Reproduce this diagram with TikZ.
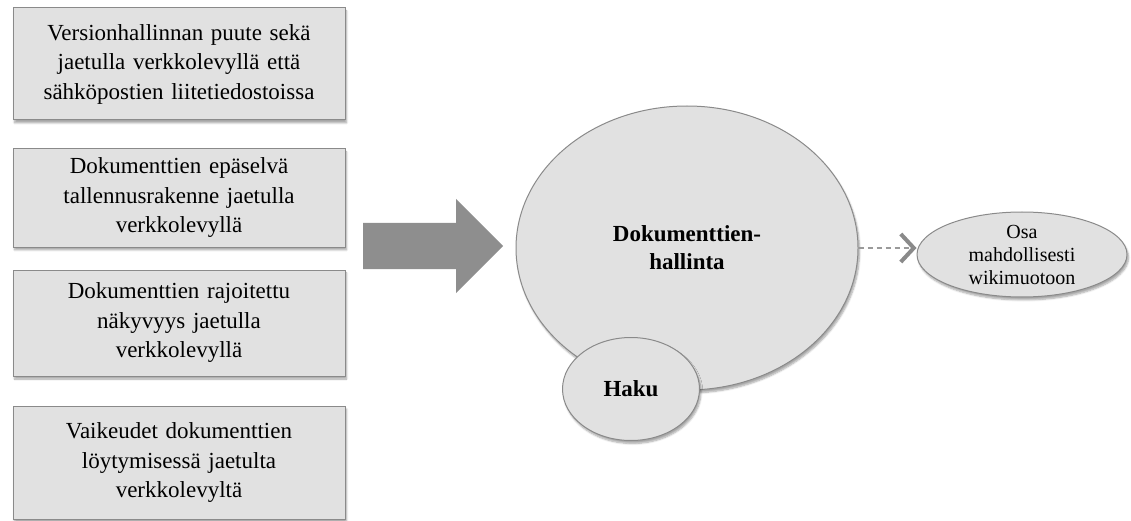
\documentclass[tikz,border=0pt]{standalone}
\usepackage{fontspec}
\setmainfont{Liberation Serif}
\usetikzlibrary{shapes.geometric,arrows.meta,shadows.blur}
\definecolor{panel}{HTML}{E1E1E1}
\definecolor{edge}{HTML}{8A8A8A}
\definecolor{bigarrow}{HTML}{8E8E8E}
\definecolor{dashline}{HTML}{9A9A9A}
\tikzset{
  shade/.style={blur shadow={shadow xshift=1.5pt,shadow yshift=-3pt,shadow blur steps=6,shadow opacity=35}},
  issue/.style={draw=edge,line width=1pt,fill=panel,shade,minimum width=332pt,
    text width=300pt,align=center,inner sep=0pt,
    font=\fontsize{23}{29.5}\selectfont},
  blob/.style={ellipse,draw=edge,line width=1pt,fill=panel,shade,inner sep=0pt,align=center},
}
\begin{document}
\begin{tikzpicture}[x=1pt,y=1pt]
\useasboundingbox (0,0) rectangle (1131,520);

% problem boxes on the left
\node[issue,minimum height=112pt] (p1) at (179,456)
  {Versionhallinnan puute sekä\\jaetulla verkkolevyllä että\\sähköpostien liitetiedostoissa};
\node[issue,minimum height=98pt] (p2) at (179,322)
  {Dokumenttien epäselvä\\tallennusrakenne jaetulla\\verkkolevyllä};
\node[issue,minimum height=106pt] (p3) at (179,197)
  {Dokumenttien rajoitettu\\näkyvyys jaetulla\\verkkolevyllä};
\node[issue,minimum height=113pt] (p4) at (179,57.5)
  {Vaikeudet dokumenttien\\löytymisessä jaetulta\\verkkolevyltä};

% block arrow towards the solution
\fill[bigarrow] (363,297) -- (456,297) -- (456,321) -- (503,274)
  -- (456,227) -- (456,251) -- (363,251) -- cycle;

% solution ellipses
\node[blob,minimum width=342pt,minimum height=284pt,
  font=\bfseries\fontsize{23}{28}\selectfont] (dh) at (687,272)
  {Dokumenttien-\\hallinta};
\node[blob,minimum width=137pt,minimum height=103pt,
  font=\bfseries\fontsize{23}{28}\selectfont] (haku) at (631,131) {Haku};
\node[blob,minimum width=210pt,minimum height=85pt,
  font=\fontsize{20}{23}\selectfont] (osa) at (1022,265.5)
  {Osa\\mahdollisesti\\wikimuotoon};

% optional continuation
\draw[dashline,line width=1.6pt,dash pattern=on 5pt off 4pt,
  -{Straight Barb[length=13pt,width=28pt,line width=4pt,color=edge]}]
  (dh.east) -- (osa.west |- dh.east);
\end{tikzpicture}
\end{document}
